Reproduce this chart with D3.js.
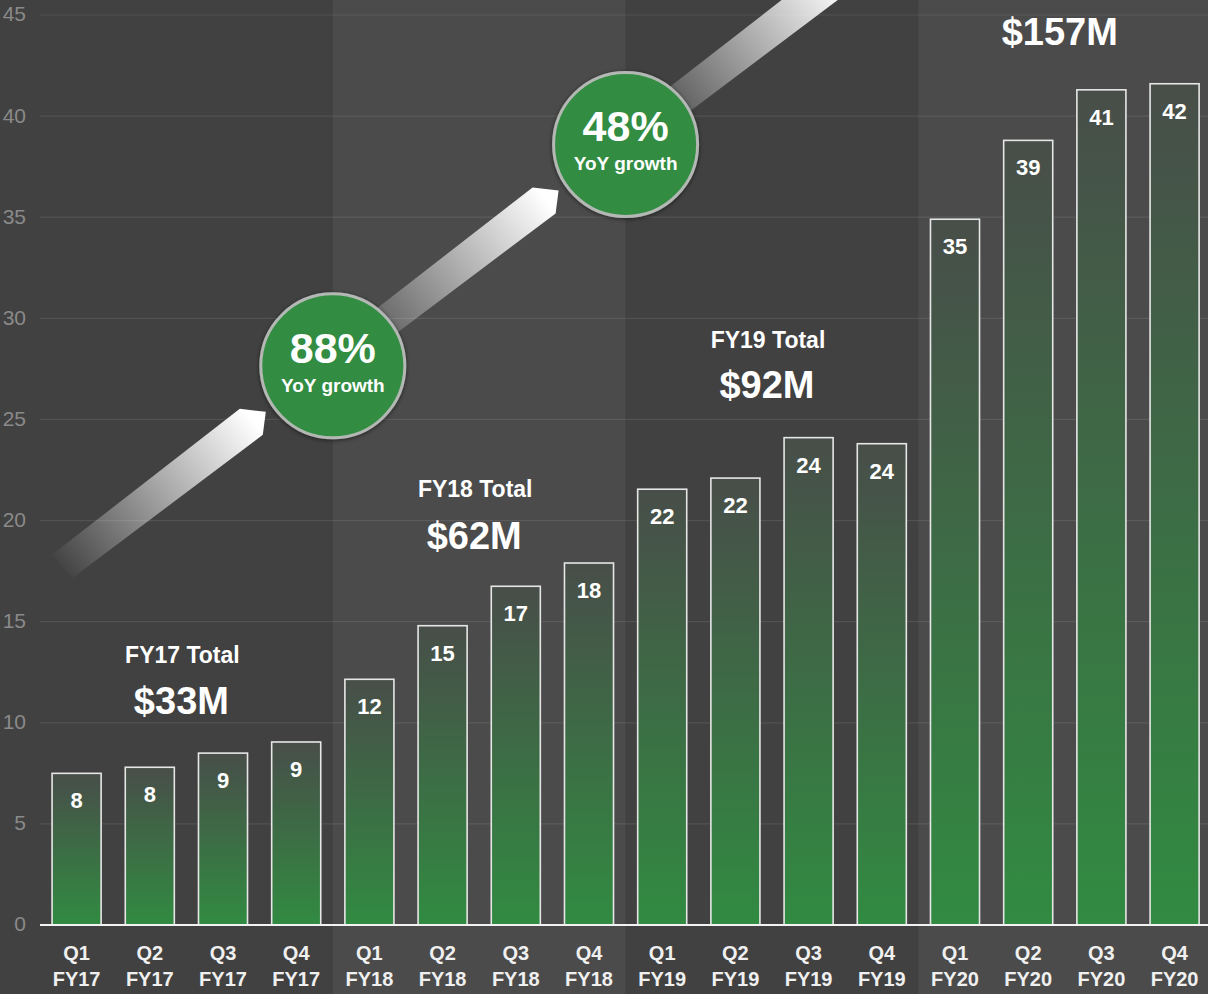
<!DOCTYPE html>
<html>
<head>
<meta charset="utf-8">
<script src="https://cdn.jsdelivr.net/npm/d3@7/dist/d3.min.js"></script>
<style>
  html, body { margin: 0; padding: 0; background: #414141; }
  svg { display: block; font-family: "Liberation Sans", Arial, Helvetica, sans-serif; }
</style>
</head>
<body>
<svg id="chart" width="1208" height="994"></svg>
<script>
// ---------------- data ----------------
const quarters = ["Q1","Q2","Q3","Q4","Q1","Q2","Q3","Q4","Q1","Q2","Q3","Q4","Q1","Q2","Q3","Q4"];
const fiscalYearOfBar = ["FY17","FY17","FY17","FY17","FY18","FY18","FY18","FY18","FY19","FY19","FY19","FY19","FY20","FY20","FY20","FY20"];
const revenue = [7.5, 7.8, 8.5, 9.05, 12.15, 14.8, 16.75, 17.9, 21.55, 22.1, 24.1, 23.8, 34.9, 38.8, 41.3, 41.6];
const valueLabels = ["8","8","9","9","12","15","17","18","22","22","24","24","35","39","41","42"];
const fiscalYears = ["FY17","FY18","FY19","FY20"];
const yearTotals = ["$33M","$62M","$92M","$157M"];
const growthRates = ["88%","48%"];
const yTicks = [0,5,10,15,20,25,30,35,40,45];

// annotation anchors in value units (layout); FY20 title lies above the visible area
const totalTitleAt = [12.95, 21.15, 28.55, null];
const totalAmountAt = [10.43, 18.6, 26.05, 43.5];
const circleAt = [27.65, 38.6];

// ---------------- setup ----------------
const W = 1208, H = 994;
const svg = d3.select("#chart");
const categories = quarters.map((q, i) => q + " " + fiscalYearOfBar[i]);

const x = d3.scaleBand().domain(categories).range([40, 1211.2]).paddingInner(0.33).paddingOuter(0.165);
const y = d3.scaleLinear().domain([0, 45]).range([925, 15]);
const step = x.step();
const gap = step * x.paddingInner();

const defs = svg.append("defs");
const barGrad = defs.append("linearGradient").attr("id", "barGrad")
  .attr("x1", 0).attr("y1", 0).attr("x2", 0).attr("y2", 1);
barGrad.append("stop").attr("offset", "0%").attr("stop-color", "#484e49");
barGrad.append("stop").attr("offset", "100%").attr("stop-color", "#318b41");

const arrowGrad = defs.append("linearGradient").attr("id", "arrowGrad")
  .attr("gradientUnits", "userSpaceOnUse")
  .attr("x1", -203).attr("y1", 155).attr("x2", -12).attr("y2", 10);
arrowGrad.append("stop").attr("offset", "0%").attr("stop-color", "#ffffff").attr("stop-opacity", 0.02);
arrowGrad.append("stop").attr("offset", "100%").attr("stop-color", "#ffffff").attr("stop-opacity", 1);

const shadow = defs.append("filter").attr("id", "shadow")
  .attr("x", "-20%").attr("y", "-20%").attr("width", "140%").attr("height", "140%");
shadow.append("feDropShadow").attr("dx", 0).attr("dy", 1).attr("stdDeviation", 2)
  .attr("flood-color", "#000").attr("flood-opacity", 0.55);

// group boundaries
function groupLeft(g) { return g === 0 ? 0 : x(categories[g * 4]) - gap / 2; }
function groupRight(g) { return g === fiscalYears.length - 1 ? W : x(categories[g * 4 + 4]) - gap / 2; }
function groupCenter(g) { return (x(categories[g * 4]) + x(categories[g * 4 + 3]) + x.bandwidth()) / 2; }

// ---------------- panels ----------------
svg.append("g").selectAll("rect").data(fiscalYears).join("rect")
  .attr("x", (d, i) => groupLeft(i))
  .attr("y", 0)
  .attr("width", (d, i) => groupRight(i) - groupLeft(i))
  .attr("height", H)
  .attr("fill", (d, i) => i % 2 === 0 ? "#414141" : "#4b4b4b");

// ---------------- grid + y axis ----------------
const yAxis = d3.axisLeft(y).tickValues(yTicks).tickSize(0).tickPadding(0);
const yg = svg.append("g").attr("transform", "translate(26,0)").call(yAxis);
yg.select(".domain").remove();
yg.selectAll("text").attr("font-size", 21).attr("fill", "#8a8a8a")
  .attr("font-family", "'Liberation Sans', Arial, sans-serif").attr("dy", "0.28em");

svg.append("g").selectAll("line").data(yTicks.filter(t => t > 0)).join("line")
  .attr("x1", 40).attr("x2", W)
  .attr("y1", d => y(d)).attr("y2", d => y(d))
  .attr("stroke", "#ffffff").attr("stroke-opacity", 0.09).attr("stroke-width", 1.2);

// ---------------- growth arrows ----------------
const arrowShape = [[-214, 143], [-26, -3], [0, 0], [-3, 23], [-193, 166]];
const circleX = g => x(categories[g * 4]) - gap / 2; // boundary at start of group g
const circ1 = [circleX(1), y(circleAt[0])];
const circ2 = [circleX(2), y(circleAt[1])];
const dvec = [circ2[0] - circ1[0], circ2[1] - circ1[1]];
const tipOffset = [-67, 46];
const tips = [0, 1, 2].map(k => [circ1[0] + dvec[0] * k + tipOffset[0], circ1[1] + dvec[1] * k + tipOffset[1]]);

svg.append("g").selectAll("path").data(tips).join("path")
  .attr("transform", d => `translate(${d[0]},${d[1]})`)
  .attr("d", d3.line()(arrowShape) + "Z")
  .attr("fill", "url(#arrowGrad)");

// ---------------- bars ----------------
const bars = svg.append("g");
bars.selectAll("rect").data(revenue).join("rect")
  .attr("x", (d, i) => x(categories[i]))
  .attr("y", d => y(d))
  .attr("width", x.bandwidth())
  .attr("height", d => y(0) - y(d))
  .attr("fill", "url(#barGrad)")
  .attr("stroke", "#e6e6e6").attr("stroke-width", 1.6);

bars.selectAll("text").data(revenue).join("text")
  .attr("x", (d, i) => x(categories[i]) + x.bandwidth() / 2)
  .attr("y", d => y(d) + 35)
  .attr("text-anchor", "middle")
  .attr("font-size", 22).attr("font-weight", "bold").attr("fill", "#ffffff")
  .text((d, i) => valueLabels[i]);

// ---------------- x axis ----------------
svg.append("line").attr("x1", 40).attr("x2", W).attr("y1", y(0)).attr("y2", y(0))
  .attr("stroke", "#f2f2f2").attr("stroke-width", 2);

const xl = svg.append("g").selectAll("text").data(categories).join("text")
  .attr("x", d => x(d) + x.bandwidth() / 2)
  .attr("text-anchor", "middle")
  .attr("font-size", 20).attr("font-weight", "bold").attr("fill", "#f0f0f0");
xl.append("tspan").attr("x", d => x(d) + x.bandwidth() / 2).attr("y", 960).text((d, i) => quarters[i]);
xl.append("tspan").attr("x", d => x(d) + x.bandwidth() / 2).attr("y", 986).text((d, i) => fiscalYearOfBar[i]);

// ---------------- year totals ----------------
const tot = svg.append("g");
const titled = fiscalYears.map((d, i) => ({ d, i })).filter(o => totalTitleAt[o.i] !== null);
tot.selectAll("text.title").data(titled).join("text").attr("class", "title")
  .attr("x", o => groupCenter(o.i) - 4)
  .attr("y", o => y(totalTitleAt[o.i]))
  .attr("text-anchor", "middle")
  .attr("font-size", 23).attr("font-weight", "bold").attr("fill", "#ffffff")
  .text(o => o.d + " Total");
tot.selectAll("text.amount").data(yearTotals).join("text").attr("class", "amount")
  .attr("x", (d, i) => groupCenter(i) - 5)
  .attr("y", (d, i) => y(totalAmountAt[i]))
  .attr("text-anchor", "middle")
  .attr("font-size", 38).attr("font-weight", "bold").attr("fill", "#ffffff")
  .text(d => d);

// ---------------- growth circles ----------------
const circles = [circ1, circ2];
const cg = svg.append("g").selectAll("g").data(growthRates).join("g")
  .attr("transform", (d, i) => `translate(${circles[i][0]},${circles[i][1]})`);
cg.append("circle").attr("r", 72)
  .attr("fill", "#328c43")
  .attr("stroke", "#b4b8b4").attr("stroke-width", 3)
  .attr("filter", "url(#shadow)");
cg.append("text").attr("y", -3).attr("text-anchor", "middle")
  .attr("font-size", 43).attr("font-weight", "bold").attr("fill", "#ffffff")
  .text(d => d);
cg.append("text").attr("y", 26).attr("text-anchor", "middle")
  .attr("font-size", 19).attr("font-weight", "bold").attr("fill", "#ffffff")
  .text("YoY growth");
</script>
</body>
</html>
